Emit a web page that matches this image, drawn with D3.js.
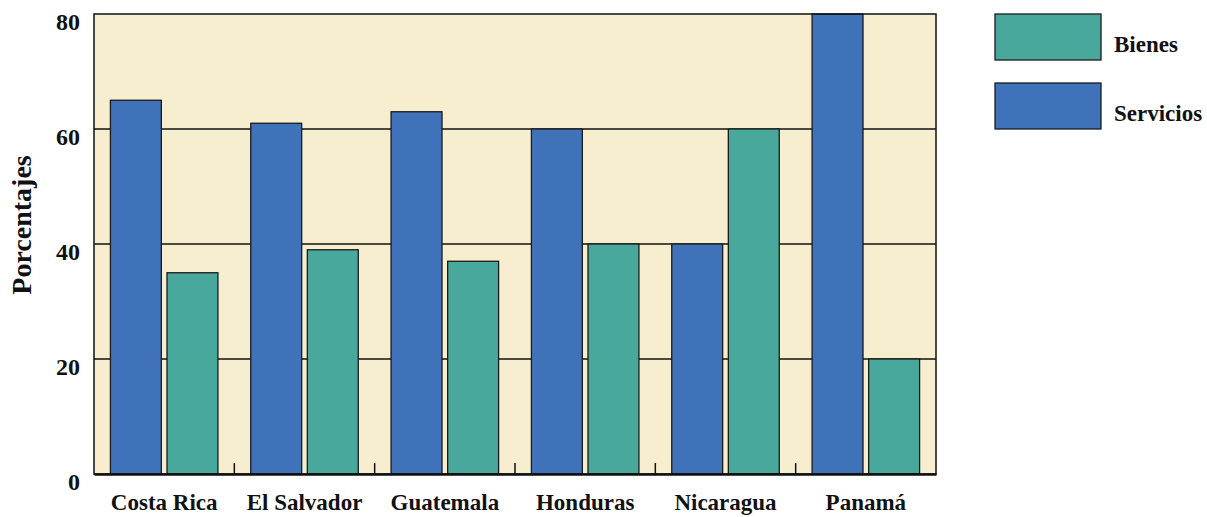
<!DOCTYPE html>
<html>
<head>
<meta charset="utf-8">
<script src="https://cdn.jsdelivr.net/npm/d3@7"></script>
<style>
  body { margin: 0; background: #fff; }
</style>
</head>
<body>
<div id="chart"></div>
<script>
// data
const countries = ["Costa Rica", "El Salvador", "Guatemala", "Honduras", "Nicaragua", "Panamá"]
const series = ["Servicios", "Bienes"]
const servicios = [65, 61, 63, 60, 40, 80]
const bienes = [35, 39, 37, 40, 60, 20]
const yTicks = [0, 20, 40, 60, 80]
const legendOrder = ["Bienes", "Servicios"]

const colors = { Servicios: "#3f72b8", Bienes: "#48a89c" }
const FONT = "Liberation Serif, serif"

let W = 1207, H = 517
let margin = { top: 14, right: 271, bottom: 43, left: 94 }
let width = W - margin.left - margin.right
let height = H - margin.top - margin.bottom

let rows = countries.map((c, i) => ({ country: c, Servicios: servicios[i], Bienes: bienes[i] }))

let svg = d3.select("#chart").append("svg")
  .attr("width", W)
  .attr("height", H)
  .attr("font-family", FONT)
  .attr("font-weight", "bold")

let g = svg.append("g")
  .attr("transform", "translate(" + margin.left + "," + margin.top + ")")

// SCALES
let x0 = d3.scaleBand().domain(countries).range([0, width])
let x1 = d3.scaleBand().domain(series).range([0, x0.bandwidth()])
  .paddingInner(0.1).paddingOuter(0.29)
let y = d3.scaleLinear().domain([0, 80]).range([height, 0])

// background
g.append("rect")
  .attr("width", width).attr("height", height)
  .attr("fill", "#f7eed0")

// gridlines
g.selectAll(".grid").data(yTicks.filter(d => d > 0 && d < 80))
  .enter().append("line")
  .attr("class", "grid")
  .attr("x1", 0).attr("x2", width)
  .attr("y1", d => y(d)).attr("y2", d => y(d))
  .attr("stroke", "#111").attr("stroke-width", 1.5)

// bars
let groups = g.selectAll(".country").data(rows)
  .enter().append("g")
  .attr("class", "country")
  .attr("transform", d => "translate(" + x0(d.country) + ",0)")

groups.selectAll("rect")
  .data(d => series.map(s => ({ key: s, value: d[s] })))
  .enter().append("rect")
  .attr("x", d => x1(d.key))
  .attr("width", x1.bandwidth())
  .attr("y", d => y(d.value))
  .attr("height", d => height - y(d.value))
  .attr("fill", d => colors[d.key])
  .attr("stroke", "#1a1a1a")
  .attr("stroke-width", 1.3)

// frame
g.append("rect")
  .attr("width", width).attr("height", height)
  .attr("fill", "none").attr("stroke", "#111").attr("stroke-width", 1.5)

// x axis
let xAxis = d3.axisBottom(x0).tickSize(0).tickPadding(20)
let xg = g.append("g")
  .attr("transform", "translate(0," + height + ")")
  .call(xAxis)
  .attr("font-family", FONT)
  .attr("font-size", 23)
xg.select(".domain").attr("stroke", "#111").attr("stroke-width", 2.5)
xg.selectAll(".tick text")
  .attr("font-weight", "bold")
  .attr("fill", "#111")

// little ticks between the countries, pointing up
g.selectAll(".sep").data(countries.slice(1))
  .enter().append("line")
  .attr("class", "sep")
  .attr("x1", d => x0(d)).attr("x2", d => x0(d))
  .attr("y1", height).attr("y2", height - 11)
  .attr("stroke", "#111").attr("stroke-width", 1.5)

// y axis
let yAxis = d3.axisLeft(y).tickValues(yTicks).tickSize(0).tickPadding(14)
let yg = g.append("g").call(yAxis)
  .attr("font-family", FONT)
  .attr("font-size", 24)
yg.select(".domain").remove()
yg.selectAll(".tick text")
  .attr("dy", "0.65em")
  .attr("font-weight", "bold")
  .attr("fill", "#111")

svg.append("text")
  .attr("transform", "translate(31," + (margin.top + 211) + "),rotate(-90)")
  .attr("text-anchor", "middle")
  .attr("font-size", 28)
  .attr("fill", "#111")
  .text("Porcentajes")

// legend
let legend = svg.append("g").attr("transform", "translate(995,14)")
let item = legend.selectAll(".item").data(legendOrder)
  .enter().append("g")
  .attr("class", "item")
  .attr("transform", (d, i) => "translate(0," + i * 69 + ")")
item.append("rect")
  .attr("width", 106).attr("height", 46)
  .attr("fill", d => colors[d])
  .attr("stroke", "#1a1a1a").attr("stroke-width", 1.3)
item.append("text")
  .attr("x", 119).attr("y", 38)
  .attr("font-size", 23)
  .attr("fill", "#111")
  .text(d => d)
</script>
</body>
</html>
